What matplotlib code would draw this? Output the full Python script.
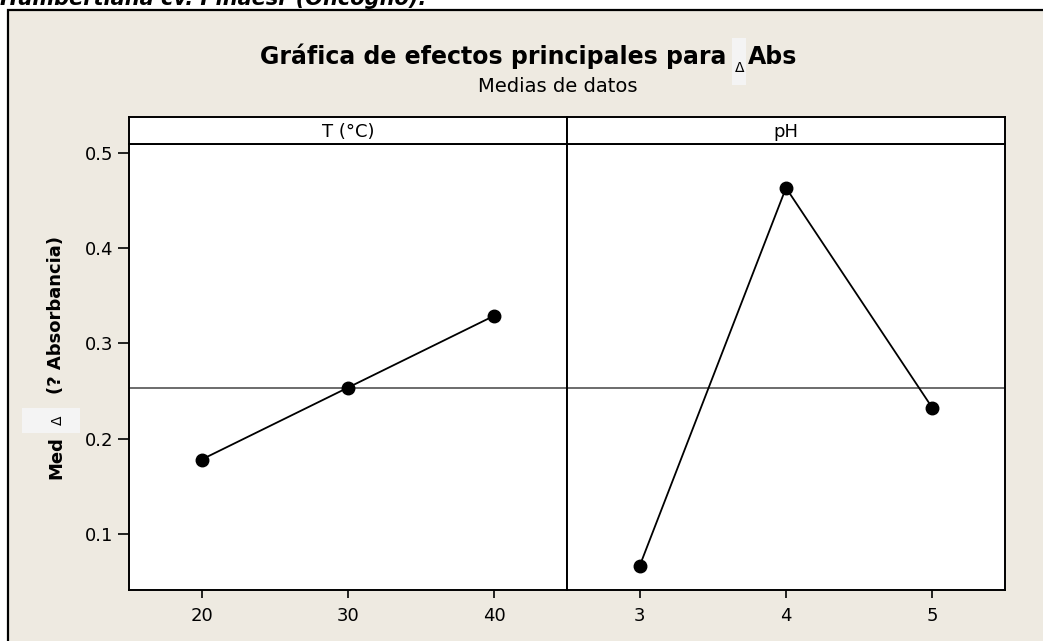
import matplotlib
matplotlib.use("Agg")
import matplotlib.pyplot as plt
from matplotlib.patches import Rectangle

# data (means of delta Abs)
temp_levels = [20, 30, 40]
temp_means = [0.178, 0.2535, 0.329]
ph_levels = [3, 4, 5]
ph_means = [0.066, 0.463, 0.232]
grand_mean = 0.2535
panel_names = ["T (°C)", "pH"]
y_ticks = [0.1, 0.2, 0.3, 0.4, 0.5]

W, H = 1043, 641
BG = "#EEEAE1"

fig = plt.figure(figsize=(W / 100, H / 100), dpi=100)
fig.patch.set_facecolor("white")


def fx(px):
    return px / W


def fy(py):
    return 1 - py / H


# background axes in pixel coords, holds the frame and grey boxes
bg = fig.add_axes([0, 0, 1, 1], zorder=-5)
bg.set_xlim(0, W)
bg.set_ylim(H, 0)
bg.axis("off")
bg.add_patch(Rectangle((8, 10), 1200, 800, facecolor=BG, edgecolor="black", linewidth=1.6))
bg.add_patch(Rectangle((732, 38), 14, 47, facecolor="#F4F4F4", edgecolor="none"))
bg.add_patch(Rectangle((22, 408), 58, 25, facecolor="#F4F4F4", edgecolor="none"))

# cropped caption line above the frame
fig.text(fx(0), fy(5), "Humbertiana cv. Pinaesr (Oncogno).", fontsize=15,
         fontweight="bold", fontstyle="italic", ha="left", va="baseline")

# title in pieces so the delta can carry its grey box
fig.text(fx(726), fy(64), "Gráfica de efectos principales para", fontsize=17,
         fontweight="bold", ha="right", va="baseline")
fig.text(fx(740), fy(72), "Δ", fontsize=10, ha="center", va="baseline")
fig.text(fx(748), fy(64), "Abs", fontsize=17, fontweight="bold", ha="left", va="baseline")
fig.text(fx(558), fy(86), "Medias de datos", fontsize=14, ha="center", va="center")

# y label in pieces
fig.text(fx(56), fy(458), "Med", fontsize=13, fontweight="bold", rotation=90,
         ha="center", va="center")
fig.text(fx(58), fy(420), "Δ", fontsize=10, rotation=90, ha="center", va="center")
fig.text(fx(56), fy(315), "(? Absorbancia)", fontsize=13, fontweight="bold",
         rotation=90, ha="center", va="center")

left, right, top, bottom, strip_top = 129, 1005, 144, 590, 117
pw = (right - left) / 2

panels = [(temp_levels, temp_means, (15.05, 44.95)),
          (ph_levels, ph_means, (2.505, 5.495))]

for i, (lv, mv, xl) in enumerate(panels):
    x0 = left + i * pw
    ax = fig.add_axes([fx(x0), fy(bottom), pw / W, (bottom - top) / H])
    ax.set_facecolor("white")
    ax.axhline(grand_mean, color="#444444", linewidth=1.1, zorder=1)
    ax.plot(lv, mv, color="black", linewidth=1.3, marker="o", markersize=9, zorder=3)
    ax.set_xlim(*xl)
    ax.set_ylim(0.0412, 0.509)
    ax.set_xticks(lv)
    ax.set_xticklabels([str(v) for v in lv])
    ax.tick_params(axis="x", direction="out", length=6, width=1.2, labelsize=13, pad=6)
    if i == 0:
        ax.set_yticks(y_ticks)
        ax.set_yticklabels([f"{v:.1f}" for v in y_ticks])
        ax.tick_params(axis="y", direction="out", length=8, width=1.2, labelsize=13, pad=3)
    else:
        ax.set_yticks([])
    for s in ax.spines.values():
        s.set_linewidth(1.4)

    sax = fig.add_axes([fx(x0), fy(top), pw / W, (top - strip_top) / H])
    sax.set_facecolor("white")
    sax.set_xticks([])
    sax.set_yticks([])
    for s in sax.spines.values():
        s.set_linewidth(1.4)
    sax.text(0.5, 0.45, panel_names[i], fontsize=13, ha="center", va="center",
             transform=sax.transAxes)

fig.savefig("out.png", dpi=100, facecolor=fig.get_facecolor())
